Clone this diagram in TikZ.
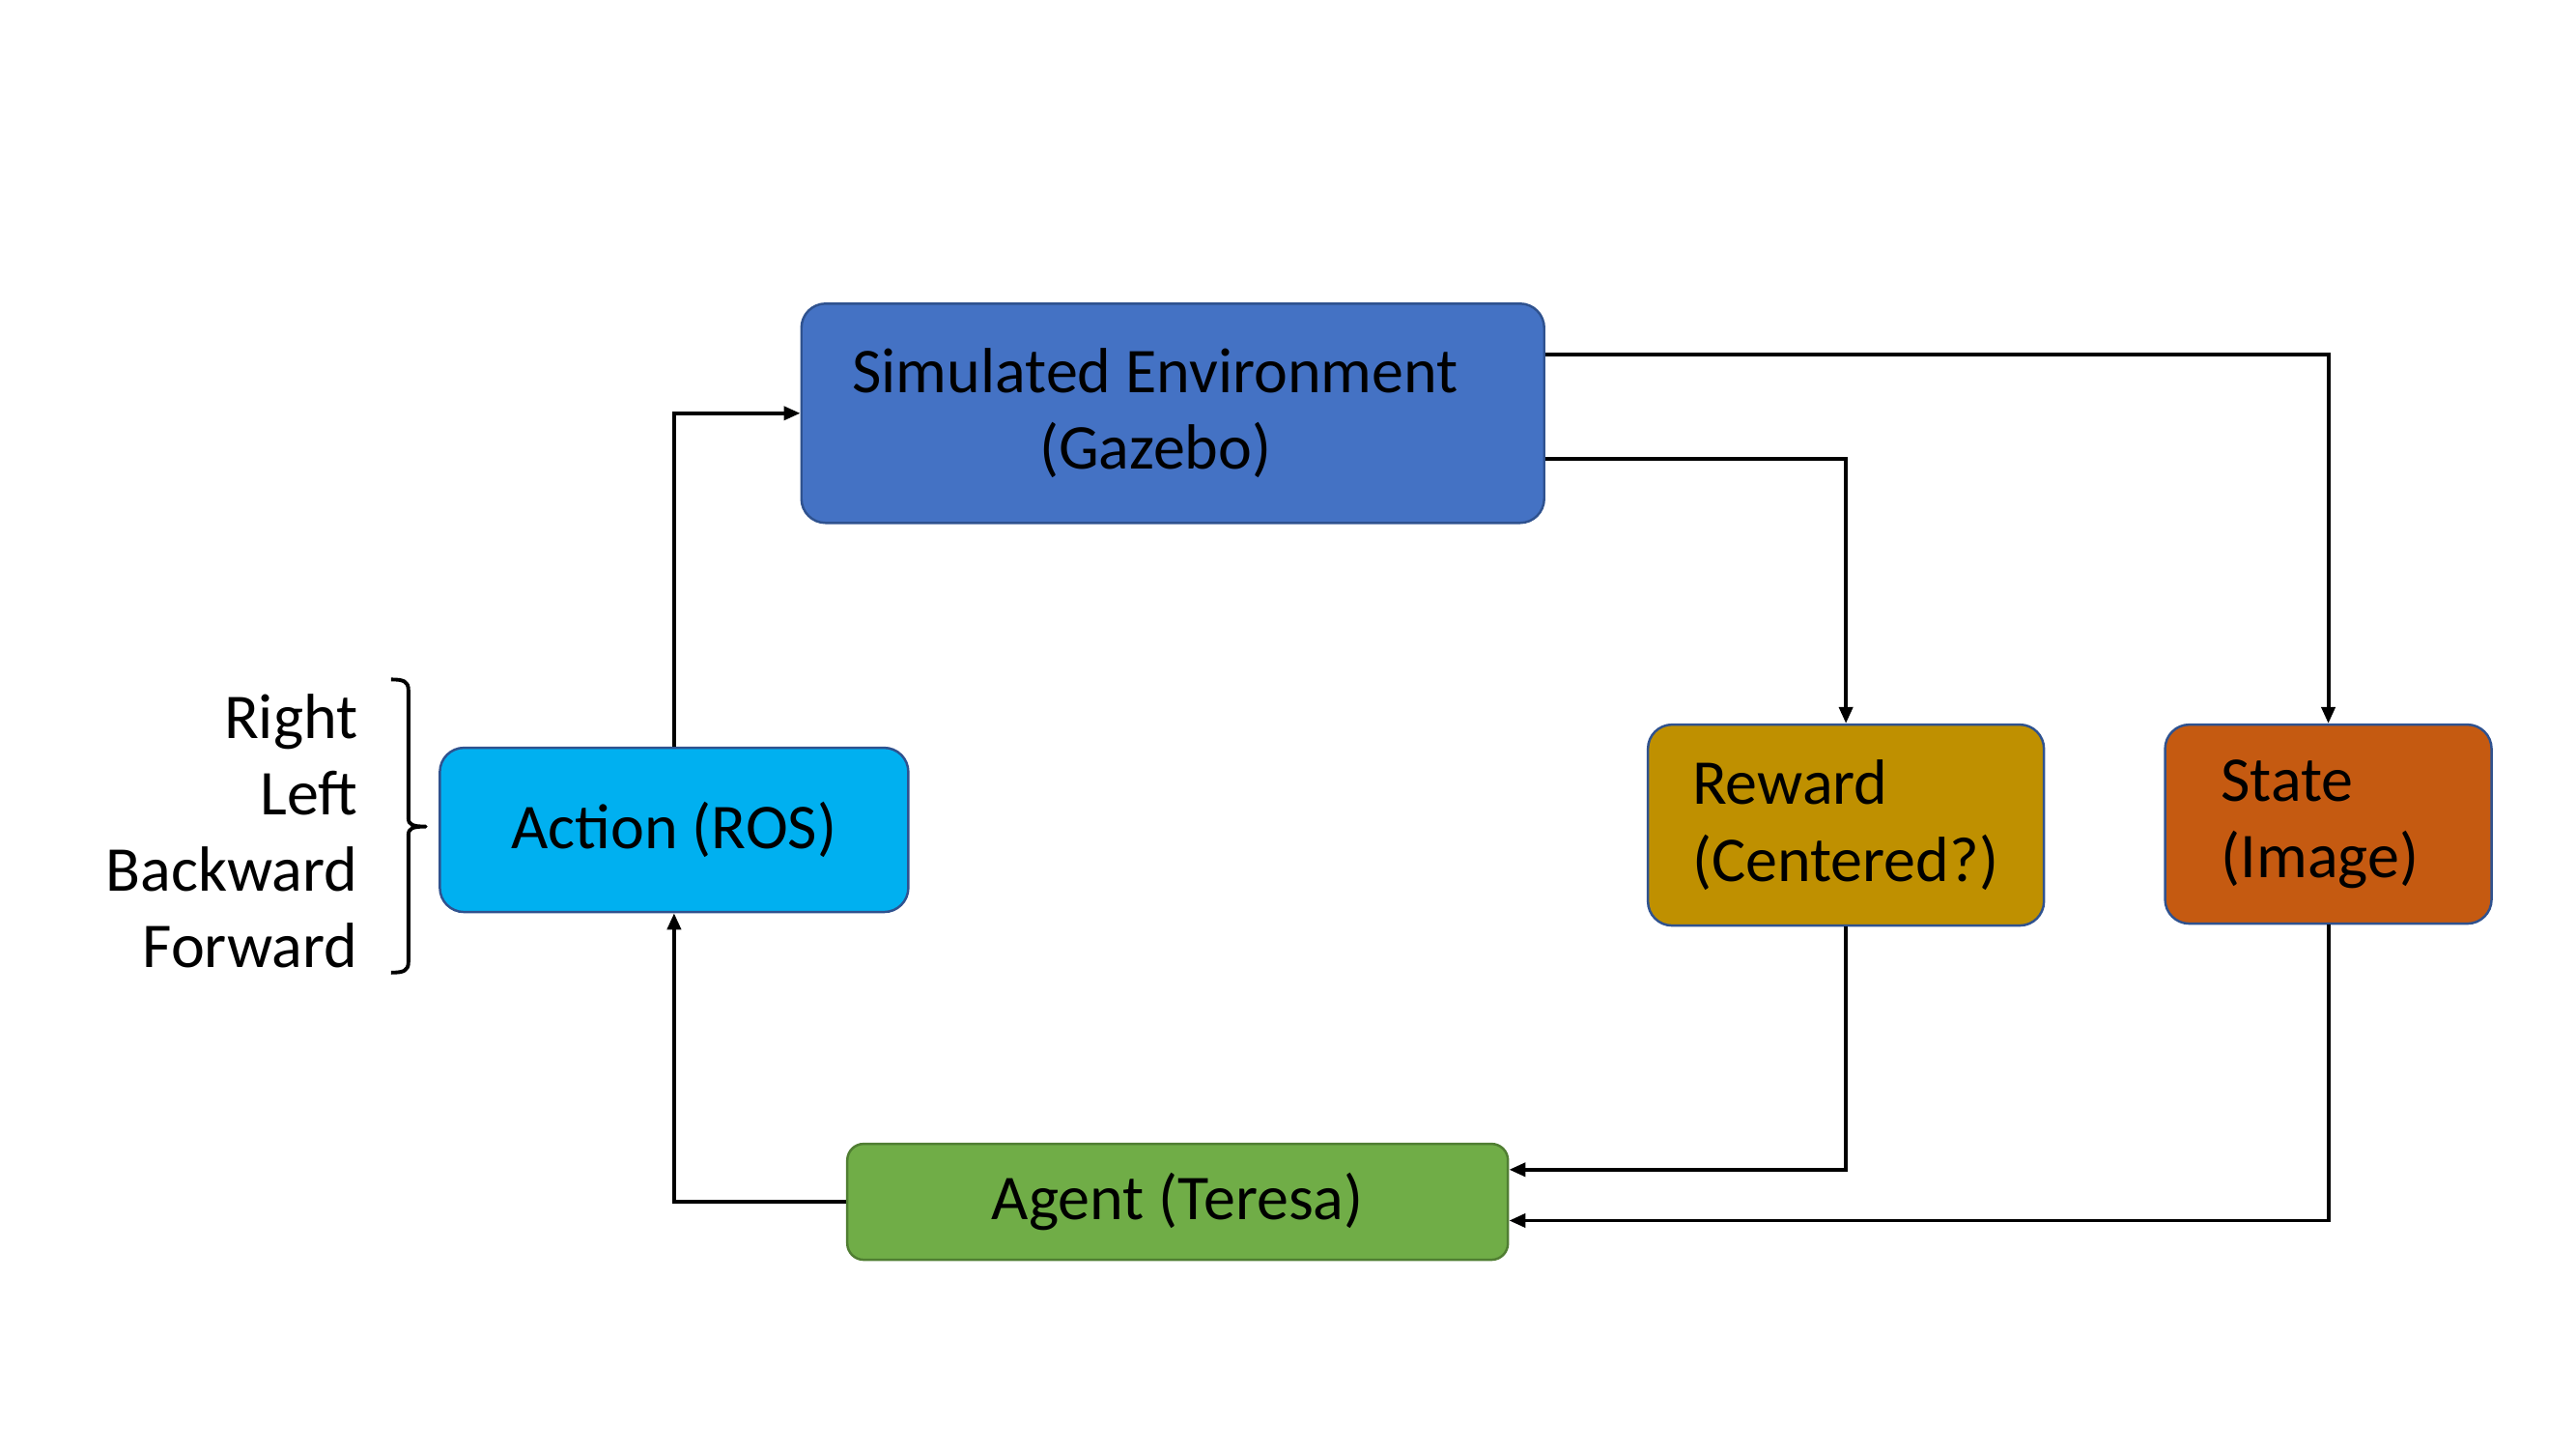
\documentclass[tikz,border=0pt]{standalone}
\usepackage{fontspec}
\setmainfont{Carlito}
\usetikzlibrary{arrows.meta}
\definecolor{simblue}{HTML}{4472C4}
\definecolor{actblue}{HTML}{00B0F0}
\definecolor{rewgold}{HTML}{BF9000}
\definecolor{staorange}{HTML}{C55A11}
\definecolor{agtgreen}{HTML}{70AD47}
\definecolor{bordblue}{HTML}{2F528F}
\definecolor{bordgreen}{HTML}{507E32}
\tikzset{
  every node/.style={font=\fontsize{18.8pt}{22.5pt}\selectfont, text=black},
  box/.style={rectangle, rounded corners=0.25cm, draw=bordblue, line width=0.7pt, inner sep=0pt},
  arr/.style={line width=1.1pt, -{Triangle[length=0.17cm,width=0.14cm]}},
}
\begin{document}
\begin{tikzpicture}[x=0.00995cm,y=-0.00995cm]
\useasboundingbox (0cm,0cm) rectangle (26.67cm,-15cm);
\node[box, fill=simblue, minimum width=7.69cm, minimum height=2.27cm, align=center]
  (sim) at (1220.5,430) {Simulated Environment\hspace*{0.36cm}\\(Gazebo)\hspace*{0.36cm}};
\node[box, fill=actblue, minimum width=4.85cm, minimum height=1.70cm]
  (act) at (701.5,863.5) {Action (ROS)};
\node[box, fill=rewgold, minimum width=4.10cm, minimum height=2.08cm, inner xsep=0.46cm, text width=3.18cm, align=left]
  (rew) at (1921,858.5) {Reward\\(Centered?)};
\node[box, fill=staorange, minimum width=3.38cm, minimum height=2.06cm, inner xsep=0.58cm, text width=2.22cm, align=left]
  (sta) at (2423,857.5) {State\\(Image)};
\node[box, fill=agtgreen, draw=bordgreen, rounded corners=0.17cm, minimum width=6.84cm, minimum height=1.20cm]
  (agt) at (1225.5,1250.5) {Agent (Teresa)};
\draw[arr] (act.north) |- (sim.west);
\draw[arr] ([yshift=0.607cm]sim.east) -| (sta.north);
\draw[arr] ([yshift=-0.468cm]sim.east) -| (rew.north);
\draw[arr] (rew.south) |- ([yshift=0.333cm]agt.east);
\draw[arr] (sta.south) |- ([yshift=-0.194cm]agt.east);
\draw[arr] (agt.west) -| (act.south);
\coordinate (bt) at (407,707);
\coordinate (btip) at (443,860);
\coordinate (bb) at (407,1012);
\draw[line width=1.1pt, line join=round]
  (bt) .. controls (420,707) and (425,709) .. (425,718) -- (425,851)
  .. controls (425,858) and (429,860) .. (btip)
  .. controls (429,860) and (425,862) .. (425,869) -- (425,1001)
  .. controls (425,1010) and (420,1012) .. (bb);
\node[anchor=east, align=right, inner sep=0pt] (labels) at (373,865) {Right\\Left\\Backward\\Forward};
\end{tikzpicture}
\end{document}
